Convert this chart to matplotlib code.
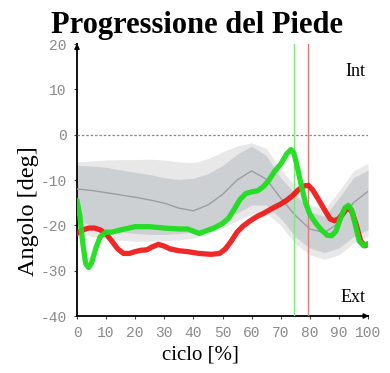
import numpy as np
import matplotlib.pyplot as plt

plt.rcParams['axes.unicode_minus'] = False

# --- normative band (mean, +/-1 SD, +/-2 SD) ---
norm_x = [0, 5, 10, 15, 20, 25, 30, 35, 40, 45, 50, 55, 60, 65, 70, 75, 80, 85, 90, 95, 100]
norm_mean = [-12, -12.3, -12.8, -13.3, -13.8, -14.4, -15.1, -16.2, -16.8, -15.5, -13.2,
             -10, -8, -9.8, -14, -17.8, -20.8, -21.6, -19.5, -15, -12.5]
sd1_hi = [-6.8, -6.9, -7.2, -7.8, -8.3, -8.8, -9.5, -9.9, -9.6, -8.6, -6.8,
          -4.3, -2.5, -4.6, -9.5, -13, -17, -18, -14, -9.5, -7.8]
sd1_lo = [-19, -20, -21, -21.5, -21.8, -22, -22, -21.8, -21.5, -20.5, -19,
          -17.3, -15.5, -15.5, -18.5, -22.5, -25, -26, -25, -22.5, -21]
sd2_hi = [-6, -5.8, -5.6, -5.5, -5.5, -5.4, -5.6, -6, -6.2, -5.3, -3.8,
          -2.5, -1.8, -3, -7.5, -11.5, -15.5, -16.5, -12.5, -8, -6.3]
sd2_lo = [-21, -22.5, -23, -23.3, -23.5, -23.5, -23.4, -23.2, -22.8, -22, -20.5,
          -19, -17.5, -17.3, -20, -24, -26.5, -27.5, -26.5, -24, -22.5]

# --- right foot (red) ---
red_x = [0, 2, 4, 6, 8, 10, 12, 14, 16, 18, 20, 22, 24, 26, 28, 30, 32, 35, 38, 42, 46, 49,
         51, 53, 55, 57, 59.5, 62, 64, 67, 70, 72, 74, 76, 78, 79.5, 81, 83, 85, 87, 88.5,
         90, 91.5, 93, 94.5, 96, 97.5, 99, 100]
red_y = [-21.8, -21, -20.6, -20.6, -21, -21.9, -23.5, -25.2, -26.2, -26.2, -25.8, -25.5,
         -25.4, -24.7, -24.2, -24.6, -25.2, -25.6, -25.8, -26.2, -26.4, -26.2, -25.2, -23.5,
         -21.5, -20.2, -19, -18, -17.4, -16.3, -15.3, -14.5, -13.5, -12.2, -11.3, -11.2,
         -12.2, -14.3, -16.5, -18.6, -19, -18.5, -17.3, -16, -17, -20, -23.5, -24.5, -24.2]

# --- left foot (green) ---
green_x = [0, 1, 2, 3, 4, 5, 6.5, 8, 10, 12, 15, 20, 25, 30, 35, 38, 40, 42, 44, 47, 50, 52,
           54, 56, 58, 60, 62, 64, 66, 68, 70, 72, 73.5, 74.5, 75.5, 77, 78.5, 80, 82, 84,
           86, 87.5, 89, 90.5, 92, 93.2, 94.3, 95.5, 97, 98.5, 100]
green_y = [-14.5, -18, -24, -28.5, -29.3, -28.3, -25, -22.5, -21.5, -21.5, -21, -20.3,
           -20.3, -20.6, -20.8, -20.8, -21.3, -21.8, -21.3, -20.6, -19.6, -18.5, -16.5,
           -14.3, -13, -12.6, -12.4, -11.5, -10, -8, -6.5, -4.3, -3.3, -4, -6.5, -11, -15,
           -17.5, -19.5, -21, -22.2, -22.3, -21.3, -18.5, -16.2, -15.6, -16.5, -19.5,
           -23.5, -24.5, -24]

# toe-off events
toe_off_green = 74.5
toe_off_red = 79.5

fig = plt.figure(figsize=(3.9, 3.73), dpi=100)
ax = fig.add_axes([77 / 390, 1 - 316 / 373, 291 / 390, 272 / 373])

ax.fill_between(norm_x, sd2_lo, sd2_hi, color='#e8e8e8', lw=0, zorder=1)
ax.fill_between(norm_x, sd1_lo, sd1_hi, color='#cdd0d3', lw=0, zorder=2)
ax.plot(norm_x, norm_mean, color='#9a9ea2', lw=1.0, zorder=3)

ax.axhline(0, color='#888888', lw=0.9, ls=(0, (2, 1.5)), zorder=3)
ax.axvline(toe_off_green, color='#7ee87e', lw=1.0, zorder=4)
ax.axvline(toe_off_red, color='#e07a7a', lw=1.0, zorder=4)

ax.plot(red_x, red_y, color='#ee1010', lw=3.8, alpha=0.9, solid_capstyle='round', zorder=5)
ax.plot(green_x, green_y, color='#1edd1e', lw=3.8, alpha=0.95, solid_capstyle='round', zorder=6)

ax.set_xlim(0, 100)
ax.set_ylim(-40, 20)
ax.set_xticks(np.arange(0, 101, 10))
ax.set_yticks(np.arange(-40, 21, 10))
for s in ['top', 'right']:
    ax.spines[s].set_visible(False)
for s in ['left', 'bottom']:
    ax.spines[s].set_linewidth(1.3)
ax.tick_params(length=2.5, width=0.8, color='#444444', labelcolor='#8a8a8a', pad=5)
for lab in ax.get_xticklabels() + ax.get_yticklabels():
    lab.set_fontfamily('Liberation Mono')
    lab.set_fontsize(10.5)

# axis arrows
ax.annotate('', xy=(1.013, 0), xycoords='axes fraction', xytext=(0.99, 0),
            arrowprops=dict(arrowstyle='-|>', color='black', lw=1.2, mutation_scale=7),
            annotation_clip=False)
ax.annotate('', xy=(0, 1.012), xycoords='axes fraction', xytext=(0, 0.99),
            arrowprops=dict(arrowstyle='-|>', color='black', lw=1.2, mutation_scale=7),
            annotation_clip=False)

ax.text(99, 14, 'Int', family='Liberation Serif', fontsize=13, ha='right', va='center')
ax.text(99, -36, 'Ext', family='Liberation Serif', fontsize=13, ha='right', va='center')

fig.text(0.505, 1 - 33 / 373, 'Progressione del Piede', family='Liberation Serif',
         fontweight='bold', fontsize=22, ha='center', va='baseline')
fig.text(0.515, 0.048, 'ciclo [%]', family='Liberation Serif', fontsize=15,
         ha='center', va='center')
fig.text(0.072, 0.434, 'Angolo [deg]', family='Liberation Serif', fontsize=17.5,
         ha='center', va='center', rotation=90)

fig.savefig('out.png', dpi=100)
